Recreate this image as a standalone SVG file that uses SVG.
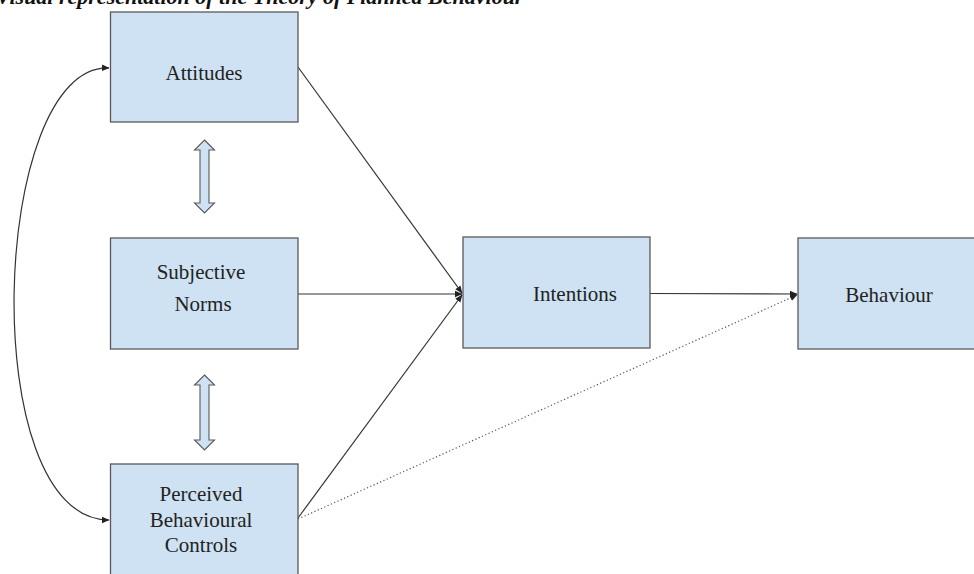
<svg xmlns="http://www.w3.org/2000/svg" width="974" height="574" viewBox="0 0 974 574">
<style>
.box{fill:#cfe2f3;stroke:#595959;stroke-width:1.3}
.lbl{font-family:"Liberation Serif","Times New Roman",serif;font-size:21px;fill:#222;text-anchor:middle}
.ttl{font-family:"Liberation Serif","Times New Roman",serif;font-size:22px;font-weight:bold;font-style:italic;fill:#111}
.con{fill:none;stroke:#333;stroke-width:1.2}
.dot{fill:none;stroke:#555;stroke-width:1.2;stroke-dasharray:1.2 2.4}
.dbl{fill:#cfe2f3;stroke:#595959;stroke-width:1.1}
</style>
<defs>
<marker id="ah" markerWidth="8" markerHeight="8" refX="7" refY="4" orient="auto-start-reverse" markerUnits="userSpaceOnUse">
<path d="M0,0.8 L7.5,4 L0,7.2 Z" fill="#222"/>
</marker>
</defs>
<rect width="974" height="574" fill="#fff"/>
<text class="ttl" x="-4" y="4">Visual representation of the Theory of Planned Behaviour</text>
<g id="connectors">
<line class="con" x1="298" y1="67" x2="462" y2="293" marker-end="url(#ah)"/>
<line class="con" x1="298" y1="294" x2="462" y2="294" marker-end="url(#ah)"/>
<line class="con" x1="298" y1="518" x2="462" y2="295" marker-end="url(#ah)"/>
<line class="con" x1="650" y1="293.5" x2="797" y2="294" marker-end="url(#ah)"/>
<line class="dot" x1="298" y1="519" x2="797" y2="295" marker-end="url(#ah)"/>
<path class="con" d="M109,68 C-10,64 -25,520 109,520" marker-start="url(#ah)" marker-end="url(#ah)"/>
</g>
<g id="attitudes">
<rect class="box" x="110.5" y="12" width="187.5" height="110"/>
<text class="lbl" x="204" y="80">Attitudes</text>
</g>
<g id="subjective-norms">
<rect class="box" x="110.5" y="238" width="187.5" height="111"/>
<text class="lbl" x="201" y="279">Subjective</text>
<text class="lbl" x="203" y="311">Norms</text>
</g>
<g id="pbc">
<rect class="box" x="110.5" y="464" width="187.5" height="115"/>
<text class="lbl" x="201" y="501">Perceived</text>
<text class="lbl" x="201" y="527">Behavioural</text>
<text class="lbl" x="201" y="552">Controls</text>
</g>
<g id="intentions">
<rect class="box" x="463" y="237" width="187" height="111"/>
<text class="lbl" x="575" y="301">Intentions</text>
</g>
<g id="behaviour">
<rect class="box" x="798" y="238" width="180" height="111"/>
<text class="lbl" x="889" y="302">Behaviour</text>
</g>
<g id="arrow-att-sn">
<path class="dbl" d="M204.5,140 L214.5,150 L209,150 L209,203 L214.5,203 L204.5,213 L194.5,203 L200,203 L200,150 L194.5,150 Z"/>
</g>
<g id="arrow-sn-pbc">
<path class="dbl" d="M204.5,375 L214.5,385 L209,385 L209,440 L214.5,440 L204.5,450 L194.5,440 L200,440 L200,385 L194.5,385 Z"/>
</g>
</svg>
